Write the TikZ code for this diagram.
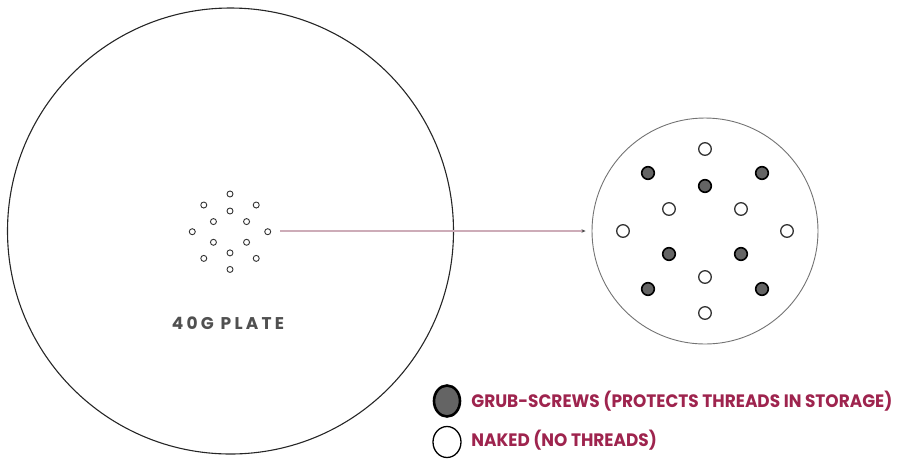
\documentclass[tikz,border=0pt]{standalone}
\usepackage{fontspec}
\usepackage{graphicx}
\setmainfont{Poppins}
\usetikzlibrary{arrows.meta,shapes.geometric}
\definecolor{keyred}{RGB}{158,36,78}
\definecolor{plategrey}{RGB}{80,80,80}
\definecolor{linkpink}{RGB}{205,172,184}
\definecolor{grubgrey}{RGB}{100,100,100}
\tikzset{every picture/.style={line width=0.75pt}}

\begin{document}
\begin{tikzpicture}[x=1pt,y=1pt,yscale=-1,
  naked/.style={draw=black!80,fill=white},
  grub/.style={draw=black,fill=grubgrey},
  keytext/.style={anchor=west,inner sep=0pt,text=keyred,font=\bfseries\fontsize{18}{21}\selectfont}]
\useasboundingbox (0,0) rectangle (905,459);
%Shape: Plate [id:plate]
\node[circle,draw=black!85,line width=1.1pt,minimum size=446pt,inner sep=0pt] (plate) at (230.5,231) {};
%Shape: Detail [id:detail]
\node[circle,draw=black!55,line width=0.9pt,minimum size=226pt,inner sep=0pt] (detail) at (705,231) {};

%Hole pattern on the plate
\begin{scope}[shift={(230,231.7)}]
\foreach \dx/\dy in {0/-82,-36/-22,36/-22,-82/0,82/0,0/46,0/82,-57/-58,57/-58,0/-45,-36/23,36/23,-57/58,57/58}
  \draw[naked,line width=0.9pt] (0.46*\dx,0.46*\dy) circle (3);
\end{scope}
%Hole pattern in the detail
\begin{scope}[shift={(detail.center)}]
\foreach \dx/\dy in {0/-82,-36/-22,36/-22,-82/0,82/0,0/46,0/82}
  \draw[naked,line width=1.3pt] (\dx,\dy) circle (6.3);
\foreach \dx/\dy in {-57/-58,57/-58,0/-45,-36/23,36/23,-57/58,57/58}
  \draw[grub,line width=1.6pt] (\dx,\dy) circle (6.3);
\end{scope}

%Connector
\coordinate (linkstart) at (280,231);
\draw[linkpink,line width=1.2pt,-{Stealth[length=4pt,width=3.5pt,color=black!70]}] (linkstart) -- ([xshift=-6pt]detail.west);

% Text Node
\node[text=plategrey,inner sep=0pt,font=\bfseries\fontsize{17}{20}\selectfont\addfontfeature{LetterSpace=19}] (platelabel) at (228,323) {40G PLATE};

%Key
\node[ellipse,grub,line width=2.6pt,minimum width=26pt,minimum height=31pt,inner sep=0pt] (grubkey) at (447,401) {};
\node[ellipse,draw=black,fill=white,line width=1.3pt,minimum width=28pt,minimum height=31pt,inner sep=0pt] (nakedkey) at (447,442) {};
% Text Node
\node[keytext] (grubtext) at (471,401) {\scalebox{0.94}[1]{GRUB-SCREWS (PROTECTS THREADS IN STORAGE)}};
% Text Node
\node[keytext] (nakedtext) at (471,440) {\scalebox{0.94}[1]{NAKED (NO THREADS)}};
\end{tikzpicture}
\end{document}
